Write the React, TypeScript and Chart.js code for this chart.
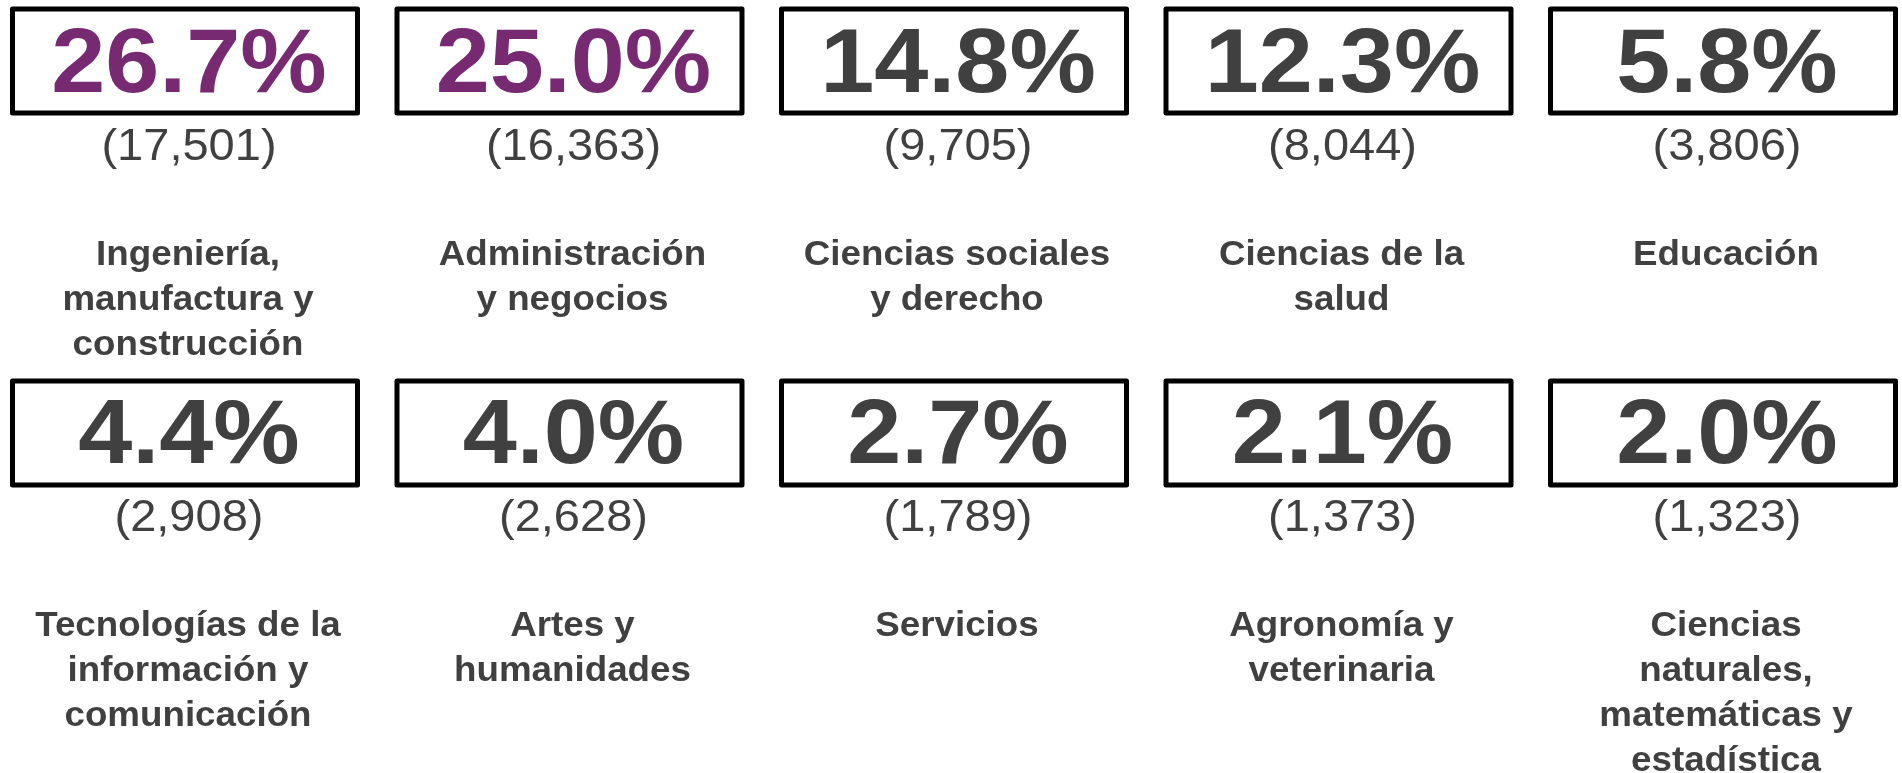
import React, { useEffect, useRef } from "react";
import { Chart, registerables } from "chart.js";

Chart.register(...registerables);

const categories: string[] = [
  "Ingeniería,\nmanufactura y\nconstrucción",
  "Administración\ny negocios",
  "Ciencias sociales\ny derecho",
  "Ciencias de la\nsalud",
  "Educación",
  "Tecnologías de la\ninformación y\ncomunicación",
  "Artes y\nhumanidades",
  "Servicios",
  "Agronomía y\nveterinaria",
  "Ciencias\nnaturales,\nmatemáticas y\nestadística",
];

const percentages: number[] = [26.7, 25.0, 14.8, 12.3, 5.8, 4.4, 4.0, 2.7, 2.1, 2.0];
const counts: number[] = [17501, 16363, 9705, 8044, 3806, 2908, 2628, 1789, 1373, 1323];
const gridColumns: number[] = [0, 1, 2, 3, 4, 0, 1, 2, 3, 4];
const gridRows: number[] = [0, 0, 0, 0, 0, 1, 1, 1, 1, 1];

const PURPLE = "#772a72";
const GRAY = "#404040";

function drawStretched(ctx: CanvasRenderingContext2D, text: string, x: number, y: number, sx: number) {
  ctx.save();
  ctx.translate(x, y);
  ctx.scale(sx, 1);
  ctx.fillText(text, 0, 0);
  ctx.restore();
}

const cellPlugin = {
  id: "cellPlugin",
  afterDatasetsDraw(chart: any) {
    const ctx: CanvasRenderingContext2D = chart.ctx;
    const meta = chart.getDatasetMeta(0);
    const boxW = 350;
    const boxH = 109;
    const lw = 5;
    meta.data.forEach((el: any, i: number) => {
      const cx = el.x;
      const cy = el.y;
      const top = cy - boxH / 2;
      const left = cx - boxW / 2;
      ctx.save();
      ctx.lineWidth = lw;
      ctx.strokeStyle = "#000000";
      ctx.lineJoin = "round";
      ctx.strokeRect(left + lw / 2, top + lw / 2, boxW - lw, boxH - lw);

      ctx.textAlign = "center";
      ctx.textBaseline = "alphabetic";
      // percentage
      ctx.fillStyle = percentages[i] >= 20 ? PURPLE : GRAY;
      ctx.font = "bold 90px 'Liberation Sans', Arial, sans-serif";
      drawStretched(ctx, percentages[i].toFixed(1) + "%", cx + 4, top + 85, 1.08);

      // count
      ctx.fillStyle = GRAY;
      ctx.font = "45px 'Liberation Sans', Arial, sans-serif";
      drawStretched(ctx, "(" + counts[i].toLocaleString("en-US") + ")", cx + 4, top + 153, 1.045);

      // label
      ctx.font = "bold 35px 'Liberation Sans', Arial, sans-serif";
      const lines = categories[i].split("\n");
      lines.forEach((line, j) => {
        drawStretched(ctx, line, cx + 3, top + 258 + j * 45, 1.05);
      });
      ctx.restore();
    });
  },
};

const bgPlugin = {
  id: "bgPlugin",
  beforeDraw(chart: any) {
    const ctx = chart.ctx;
    ctx.save();
    ctx.fillStyle = "#ffffff";
    ctx.fillRect(0, 0, chart.width, chart.height);
    ctx.restore();
  },
};

export default function App() {
  const canvasRef = useRef<HTMLCanvasElement | null>(null);

  useEffect(() => {
    document.body.style.margin = "0";
    if (!canvasRef.current) return;
    const chart = new Chart(canvasRef.current, {
      type: "scatter",
      data: {
        datasets: [
          {
            data: gridColumns.map((c, i) => ({ x: c, y: gridRows[i] })),
            pointRadius: 0,
            pointHoverRadius: 0,
          },
        ],
      },
      options: {
        animation: false,
        responsive: false,
        maintainAspectRatio: false,
        layout: { padding: 0 },
        plugins: {
          legend: { display: false },
          tooltip: { enabled: false },
        },
        events: [],
        scales: {
          x: { type: "linear", display: false, min: -0.4811, max: 4.4655 },
          y: { type: "linear", display: false, reverse: true, min: -0.164, max: 1.914 },
        },
      },
      plugins: [bgPlugin, cellPlugin],
    });
    return () => chart.destroy();
  }, []);

  return (
    <div style={{ width: 1902, height: 773 }}>
      <canvas ref={canvasRef} width={1902} height={773} style={{ display: "block" }} />
    </div>
  );
}
